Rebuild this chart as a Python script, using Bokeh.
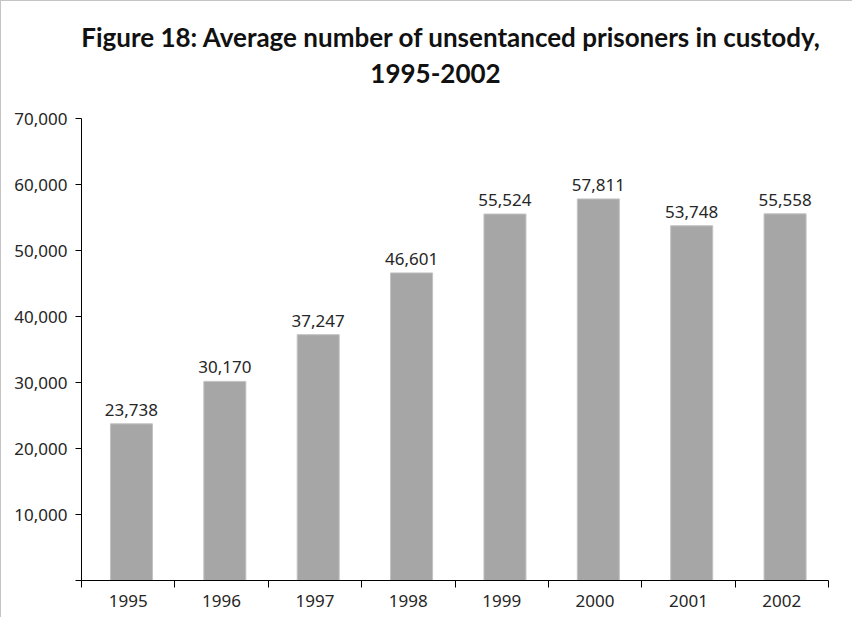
import numpy as np
from bokeh.plotting import figure
from bokeh.models import Label, FixedTicker, Range1d, ColumnDataSource, NumeralTickFormatter
from bokeh.core.properties import value
from bokeh.embed import file_html
from bokeh.resources import INLINE

years = ["1995", "1996", "1997", "1998", "1999", "2000", "2001", "2002"]
values = [23738, 30170, 37247, 46601, 55524, 57811, 53748, 55558]
y_ticks = [0, 10000, 20000, 30000, 40000, 50000, 60000, 70000]
y_max = 70000
title_1 = "Figure 18: Average number of unsentanced prisoners in custody,"
title_2 = "1995-2002"

# layout (pixels)
W, H = 852, 617
BORDER_L, BORDER_R, BORDER_B = 80, 25, 38
AXIS_TOP_PX = 117          # where y_max sits, from the top of the figure
frame_h = H - BORDER_B
frame_w = W - BORDER_L - BORDER_R

n = len(years)
centers = np.arange(n) + 0.5
src = ColumnDataSource(dict(
    x=centers + 0.035,
    top=values,
    label=[f"{v:,}" for v in values],
))

TXT = "#262626"
FONT = "Noto Sans"
y_end = y_max * frame_h / (frame_h - AXIS_TOP_PX)
p = figure(width=W, height=H, output_backend="svg", toolbar_location=None,
           x_range=Range1d(0, n), y_range=Range1d(0, y_end),
           min_border_left=BORDER_L, min_border_right=BORDER_R,
           min_border_bottom=BORDER_B, min_border_top=0)
p.styles = {"border-top": "1px solid #c4c4c4", "border-left": "1px solid #c4c4c4"}

p.vbar(x="x", top="top", width=0.45, source=src, fill_color="#a6a6a6", line_color="#c2c2c2", line_width=1)
p.text(x="x", y="top", text="label", source=src, text_align="center", text_baseline="bottom",
       y_offset=-8, text_font=value(FONT), text_font_size="17px", text_color=TXT)

p.add_layout(Label(x=370, y=frame_h - 35, x_units="screen", y_units="screen", text=title_1,
                   text_align="center", text_baseline="middle", text_font="Lato",
                   text_font_size="26px", text_font_style="bold", text_color="#111111"))
p.add_layout(Label(x=354, y=frame_h - 72, x_units="screen", y_units="screen", text=title_2,
                   text_align="center", text_baseline="middle", text_font="Lato",
                   text_font_size="26px", text_font_style="bold", text_color="#111111"))

p.grid.visible = False
p.outline_line_color = None

xa = p.xaxis[0]
xa.ticker = FixedTicker(ticks=list(centers), minor_ticks=list(range(n + 1)))
xa.major_label_overrides = {float(c): y for c, y in zip(centers, years)}
xa.major_tick_out = 0
xa.major_tick_in = 0
xa.minor_tick_out = 7
xa.minor_tick_in = 0
xa.minor_tick_line_color = "black"
xa.axis_line_color = "black"
xa.major_label_text_font = FONT
xa.major_label_text_font_size = "17px"
xa.major_label_text_color = TXT
xa.major_label_standoff = 7

ya = p.yaxis[0]
ya.ticker = FixedTicker(ticks=y_ticks, minor_ticks=[])
ya.bounds = (0, y_max)
ya.formatter = NumeralTickFormatter(format="0,0")
ya.major_label_overrides = {0: ""}
ya.major_tick_out = 6
ya.major_tick_in = 0
ya.axis_line_color = "black"
ya.major_tick_line_color = "black"
ya.major_label_text_font = FONT
ya.major_label_text_font_size = "17px"
ya.major_label_text_color = TXT
ya.major_label_standoff = 8

open("out.html", "w").write(file_html(p, INLINE))
